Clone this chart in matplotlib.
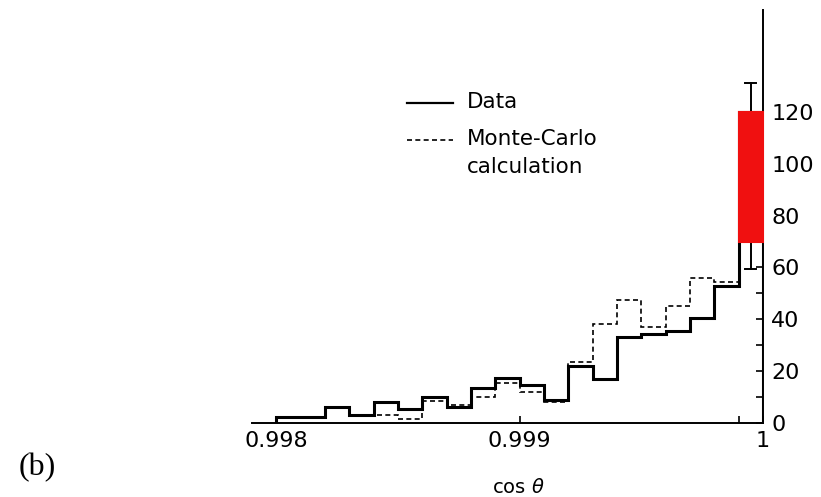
import numpy as np
import matplotlib.pyplot as plt
from matplotlib.lines import Line2D
from matplotlib.patches import Rectangle
from matplotlib.ticker import FixedLocator

# bin edges of cos(theta), width 0.0001
edges = np.round(np.linspace(0.998, 1.0, 21), 5)

# counts per bin
data_counts = [2.5, 2.5, 6, 3, 8, 5.5, 10, 6, 13.5, 17.5,
               14.5, 9, 22, 17, 33, 34.5, 35.5, 40.5, 53, 120]
mc_counts = [2, 2, 6, 3, 3, 1.5, 8.5, 7, 10, 15.5,
             12, 8, 23.5, 38, 47.5, 37, 45, 56, 54.5, 110]

# error bar on the last bin, and the red marked band
err_x = 0.99995
err_low, err_high = 59.5, 131
band_x = (0.9999, 1.0)
band_y = (70, 120)

x_ticks = [0.998, 0.999, 1.0]
x_tick_labels = ['0.998', '0.999', '1']
y_ticks = [0, 20, 40, 60, 80, 100, 120]
y_minor = [10, 30, 50, 70, 90, 110]

W, H = 821, 497
fig = plt.figure(figsize=(W / 100, H / 100), dpi=100)
ax = fig.add_axes([252 / W, 1 - 423 / H, 511 / W, 413 / H])

ax.stairs(data_counts, edges, baseline=0, color='black', lw=2.2)
ax.stairs(mc_counts, edges, baseline=0, color='black', lw=1.2,
          linestyle=(0, (3, 2)))

ax.plot([err_x, err_x], [err_low, err_high], color='black', lw=1.4)
cap = 0.000023
for yv in (err_low, err_high):
    ax.plot([err_x - cap, err_x + cap], [yv, yv], color='black', lw=1.4)

ax.add_patch(Rectangle((band_x[0], band_y[0]), band_x[1] - band_x[0],
                       band_y[1] - band_y[0], facecolor='#f01010',
                       edgecolor='#f01010', lw=1.5, zorder=5, clip_on=False))

ax.set_xlim(0.9979, 1.0)
ax.set_ylim(0, 159.3)

for s in ('left', 'top'):
    ax.spines[s].set_visible(False)
for s in ('right', 'bottom'):
    ax.spines[s].set_linewidth(1.4)

ax.yaxis.tick_right()
ax.set_yticks(y_ticks)
ax.yaxis.set_minor_locator(FixedLocator(y_minor))
ax.tick_params(axis='y', which='both', direction='in', length=5, width=1.2,
               pad=6, labelsize=16)

ax.set_xticks(x_ticks)
ax.set_xticklabels(x_tick_labels)
ax.xaxis.set_minor_locator(FixedLocator([0.9999]))
ax.tick_params(axis='x', which='both', direction='in', length=5, width=1.2,
               pad=6, labelsize=16)

# legend, drawn by hand so the dashed key sits on the first text line
def fx(px):
    return px / W


def fy(py):
    return 1 - py / H


fig.add_artist(Line2D([fx(407), fx(453)], [fy(103), fy(103)],
                      color='black', lw=1.6))
fig.add_artist(Line2D([fx(407), fx(453)], [fy(140), fy(140)],
                      color='black', lw=1.2, linestyle=(0, (3, 2))))
fig.text(fx(467), fy(108), 'Data', fontsize=15.5, va='baseline')
fig.text(fx(467), fy(145), 'Monte-Carlo', fontsize=15.5, va='baseline')
fig.text(fx(467), fy(173), 'calculation', fontsize=15.5, va='baseline')

fig.text(fx(518), fy(493), r'cos $\theta$', fontsize=14, ha='center',
         va='baseline')
fig.text(fx(37), fy(468), '(b)', fontsize=23, family='Liberation Serif',
         ha='center', va='center')

fig.savefig('out.png', dpi=100)
